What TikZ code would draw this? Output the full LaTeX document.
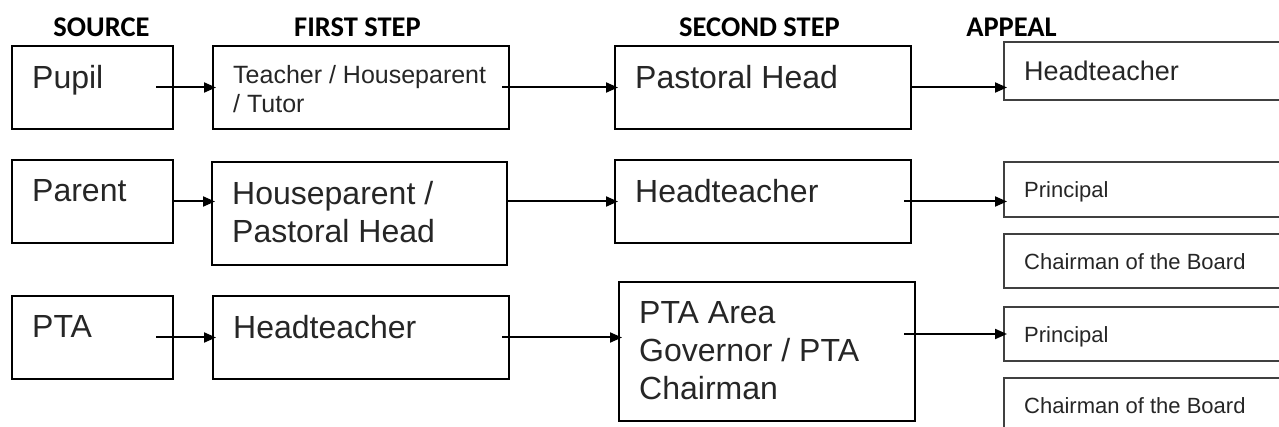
\documentclass[tikz,border=0pt]{standalone}
\usepackage{fontspec}
\setmainfont{Liberation Sans}
\newfontfamily\headfont{Carlito}
\usetikzlibrary{arrows.meta}

\newcommand\bigtxt{\fontsize{32}{38}\selectfont}
\newcommand\midtxt{\fontsize{27}{32}\selectfont}
\newcommand\teachtxt{\fontsize{25}{29}\selectfont}
\newcommand\smalltxt{\fontsize{22}{26}\selectfont}

\tikzset{
  box/.style 2 args={draw, line width=2pt, inner sep=0, outer sep=0, anchor=north west, minimum width=#1, minimum height=#2},
  appbox/.style={box={300}{#1}, draw=black!75},
  txt/.style={anchor=north west, inner sep=0, xshift=20pt, yshift=-19pt, align=left, text=black!85},
  head/.style={font=\headfont\bfseries\fontsize{28.5}{30}\selectfont},
  arr/.style={line width=2pt, -{Triangle[length=12pt,width=10pt]}, shorten >=-3pt},
}

\begin{document}
\begin{tikzpicture}[x=1pt,y=-1pt]
\clip (0,0) rectangle (1279,427);
% headings
\node[head] (hsource) at (101.5,27) {SOURCE};
\node[head] (hfirst) at (357.5,27) {FIRST STEP};
\node[head] (hsecond) at (759.5,27) {SECOND STEP};
\node[head] (happeal) at (1011.5,27) {APPEAL};
% boxes
\node[box={161}{83}] (pupil) at (12,46) {};
\node[box={296}{83}] (teach) at (213,46) {};
\node[box={296}{83}] (pastor) at (615,46) {};
\node[appbox=58] (appead) at (1004,42) {};
\node[box={161}{83}] (parent) at (12,160) {};
\node[box={295}{103}] (house) at (212,162) {};
\node[box={296}{83}] (head2) at (615,160) {};
\node[appbox=55] (prin1) at (1004,162) {};
\node[appbox=54] (chair1) at (1004,234) {};
\node[box={161}{83}] (pta) at (12,296) {};
\node[box={296}{83}] (head3) at (213,296) {};
\node[box={296}{139}] (area) at (619,282) {};
\node[appbox=54] (prin2) at (1004,307) {};
\node[appbox=60] (chair2) at (1004,378) {};
% texts
\node[txt,font=\bigtxt] (pupil-t) at (pupil.north west) {Pupil};
\node[txt,font=\teachtxt] (teach-t) at (teach.north west) {Teacher / Houseparent\\/ Tutor};
\node[txt,font=\bigtxt] (pastor-t) at (pastor.north west) {Pastoral Head};
\node[txt,font=\midtxt] (appead-t) at (appead.north west) {Headteacher};
\node[txt,font=\bigtxt] (parent-t) at (parent.north west) {Parent};
\node[txt,font=\bigtxt] (house-t) at (house.north west) {Houseparent /\\Pastoral Head};
\node[txt,font=\bigtxt] (head2-t) at (head2.north west) {Headteacher};
\node[txt,font=\smalltxt] (prin1-t) at (prin1.north west) {Principal};
\node[txt,font=\smalltxt] (chair1-t) at (chair1.north west) {Chairman of the Board};
\node[txt,font=\bigtxt] (pta-t) at (pta.north west) {PTA};
\node[txt,font=\bigtxt] (head3-t) at (head3.north west) {Headteacher};
\node[txt,font=\bigtxt] (area-t) at (area.north west) {PTA Area\\Governor / PTA\\Chairman};
\node[txt,font=\smalltxt] (prin2-t) at (prin2.north west) {Principal};
\node[txt,font=\smalltxt] (chair2-t) at (chair2.north west) {Chairman of the Board};
% arrows
\draw[arr] ([xshift=-17pt]pupil.east) -- (teach.west);
\draw[arr] ([xshift=-7pt]teach.east) -- (pastor.west);
\draw[arr] (pastor.east) -- (pastor.east -| appead.west);
\draw[arr] (parent.east) -- (parent.east -| house.west);
\draw[arr] (head2.west -| house.east) -- (head2.west);
\draw[arr] ([xshift=-7pt]head2.east) -- (head2.east -| prin1.west);
\draw[arr] ([xshift=-17pt]pta.east) -- (head3.west);
\draw[arr] ([xshift=-7pt]head3.east) -- (head3.east -| area.west);
\draw[arr] ([xshift=-11pt]prin2.west -| area.east) -- (prin2.west);
\end{tikzpicture}
\end{document}
